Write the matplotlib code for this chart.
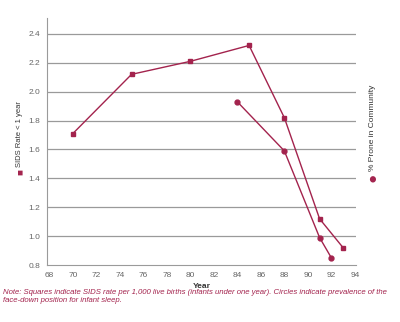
import matplotlib
matplotlib.use('Agg')
import matplotlib.pyplot as plt

plt.rcParams['font.family'] = ['Liberation Sans', 'DejaVu Sans']

# SIDS rate per 1,000 live births (squares)
sids_years = [70, 75, 80, 85, 88, 91, 93]
sids_rate = [1.71, 2.12, 2.21, 2.32, 1.82, 1.12, 0.92]

# percent prone in community (circles)
prone_years = [84, 88, 91, 92]
prone_pct = [1.93, 1.59, 0.99, 0.85]

x_ticks = list(range(68, 95, 2))
y_ticks = [0.8, 1.0, 1.2, 1.4, 1.6, 1.8, 2.0, 2.2, 2.4]

red = '#a3234d'
grey = '#666666'

fig = plt.figure(figsize=(4, 3.22), dpi=100)
ax = fig.add_axes([0.1175, 1 - 265 / 322, 0.89 - 0.1175, (265 - 18) / 322])

ax.plot(sids_years, sids_rate, color=red, lw=1, marker='s', ms=3.5, zorder=3)
ax.plot(prone_years, prone_pct, color=red, lw=1, marker='o', ms=3.5, zorder=3)

ax.set_xlim(67.8, 94.1)
ax.set_ylim(0.8, 2.51)
ax.set_xticks(x_ticks)
ax.set_yticks(y_ticks)
ax.set_yticklabels(['%.1f' % v for v in y_ticks])
ax.tick_params(length=0, labelsize=6, colors=grey, pad=5)

for v in y_ticks[1:]:
    ax.axhline(v, color='#9a9a9a', lw=0.9, zorder=1)

for s in ['top', 'right']:
    ax.spines[s].set_visible(False)
ax.spines['left'].set_color('#9a9a9a')
ax.spines['bottom'].set_color('#9a9a9a')

ax.set_xlabel('Year', fontsize=6, fontweight='bold', color='#333333', labelpad=3)

# axis titles with their marker keys
fig.text(20 / 400, 1 - 172 / 322, '\u25a0', color=red, fontsize=4.5,
         family='DejaVu Sans', ha='center', va='center', rotation=90)
fig.text(20 / 400, 1 - 134 / 322, 'SIDS Rate < 1 year', color='#333333',
         fontsize=5.5, ha='center', va='center', rotation=90)
fig.text(373 / 400, 1 - 178 / 322, '\u25cf', color=red, fontsize=6,
         family='DejaVu Sans', ha='center', va='center', rotation=90)
fig.text(373 / 400, 1 - 128 / 322, '% Prone in Community', color='#333333',
         fontsize=6, ha='center', va='center', rotation=90)

note = ('Note: Squares indicate SIDS rate per 1,000 live births (infants under one year). '
        'Circles indicate prevalence of the\nface-down position for infant sleep.')
fig.text(3 / 400, 1 - 289 / 322, note, color=red, fontsize=5.6, style='italic',
         ha='left', va='top', linespacing=1.25)

fig.savefig('out.png', dpi=100)
